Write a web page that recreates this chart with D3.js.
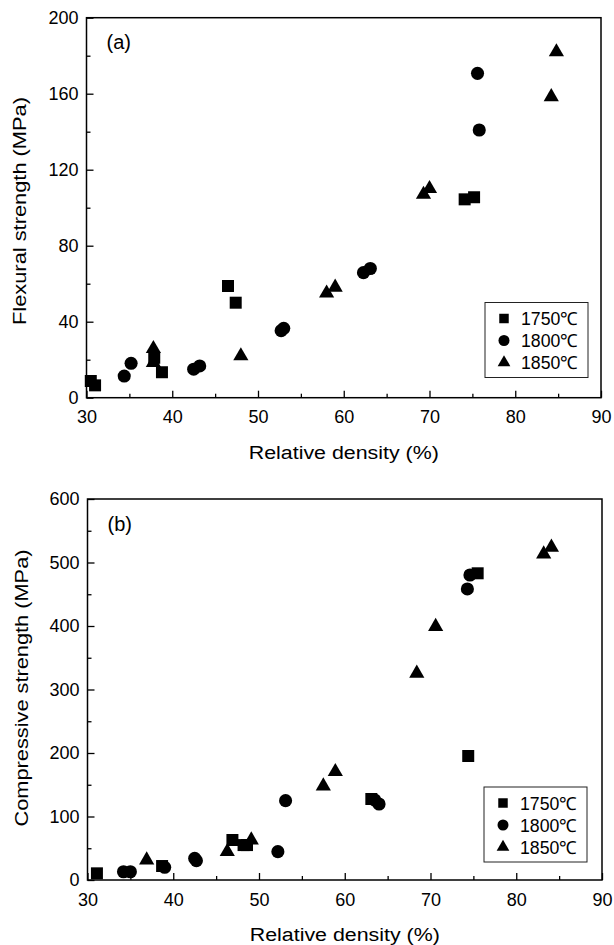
<!DOCTYPE html>
<html>
<head>
<meta charset="utf-8">
<script src="https://cdn.jsdelivr.net/npm/d3@7"></script>
<style>
  body { margin: 0; background: #fff; }
  svg text { font-family: "Liberation Sans", Arial, sans-serif; fill: #000; }
</style>
</head>
<body>
<svg id="chart" width="614" height="945"></svg>
<script>
// data: [relative density %, strength MPa]
var flex1750 = [[30.5,8.8],[31,6.5],[37.9,21],[38.8,13.4],[46.5,58.8],[47.4,50],[74.1,104.4],[75.2,105.5]];
var flex1800 = [[34.4,11.4],[35.2,18.1],[42.5,15],[43.2,16.7],[52.7,35.3],[53,36.5],[62.3,65.8],[63.1,68],[75.6,170.7],[75.8,140.9]];
var flex1850 = [[37.8,25.8],[37.8,18.5],[48,22],[58,55],[59,58.1],[69.3,107],[70,110],[84.2,158.4],[84.8,182]];

var comp1750 = [[31.1,10.5],[38.7,22],[46.9,63],[48.2,55],[48.6,55],[63.1,127.6],[74.4,195.3],[75.5,483]];
var comp1800 = [[34.2,13],[35,13],[39,20],[42.5,34],[42.7,30.4],[52.2,44.6],[53.1,125],[63.5,126],[64,119.7],[74.3,458.3],[74.6,480.3]];
var comp1850 = [[36.9,31.5],[46.3,44.6],[49.1,63],[57.5,148],[58.9,170.6],[68.4,325.5],[70.6,399],[83.2,513.4],[84.1,523.9]];

var seriesNames = ["1750\u2103","1800\u2103","1850\u2103"];
var xTicks = [30,40,50,60,70,80,90];
var xMinor = [35,45,55,65,75,85];
var flexTicks = [0,40,80,120,160,200];
var flexMinor = [20,60,100,140,180];
var compTicks = [0,100,200,300,400,500,600];
var compMinor = [50,150,250,350,450,550];

var svg = d3.select("#chart");
var shapes = [d3.symbolSquare, d3.symbolCircle, d3.symbolTriangle];
var sizes = [144, 135, 100];
var legSizes = [90, 95, 70];

function drawPanel(p) {
    var x = d3.scaleLinear().domain([30,90]).range([p.left, p.right]);
    var y = d3.scaleLinear().domain(p.yDomain).range([p.bottom, p.top]);
    var g = svg.append("g");

    // frame
    g.append("rect")
        .attr("x", p.left).attr("y", p.top)
        .attr("width", p.right - p.left).attr("height", p.bottom - p.top)
        .attr("fill", "none").attr("stroke", "#000").attr("stroke-width", 1.5);

    g.append("g").attr("transform", "translate(0," + p.bottom + ")")
        .call(d3.axisBottom(x).tickValues(xTicks).tickSize(-7).tickPadding(13).tickFormat(d3.format("d")));
    g.append("g").attr("transform", "translate(0," + p.bottom + ")")
        .call(d3.axisBottom(x).tickValues(xMinor).tickSize(-4).tickFormat(""));
    g.append("g").attr("transform", "translate(" + p.left + ",0)")
        .call(d3.axisLeft(y).tickValues(p.yTicks).tickSize(-7).tickPadding(8).tickFormat(d3.format("d")));
    g.append("g").attr("transform", "translate(" + p.left + ",0)")
        .call(d3.axisLeft(y).tickValues(p.yMinor).tickSize(-4).tickFormat(""));

    g.selectAll(".domain").remove();
    g.selectAll(".tick line").attr("stroke", "#000").attr("stroke-width", 1.3);
    g.selectAll(".tick text").style("font-size", "18px");

    // axis titles (the original lettering is wide, so stretch to its length)
    g.append("text")
        .attr("x", (p.left + p.right) / 2 - 95).attr("y", p.xTitleY)
        .attr("textLength", 190).attr("lengthAdjust", "spacingAndGlyphs")
        .style("font-size", "18px")
        .text("Relative density (%)");
    g.append("text")
        .attr("transform", "translate(" + p.yTitleX + "," + (p.yTitleMid + p.yTitleLen / 2) + ") rotate(-90)")
        .attr("textLength", p.yTitleLen).attr("lengthAdjust", "spacingAndGlyphs")
        .style("font-size", "18px")
        .text(p.yTitle);

    g.append("text")
        .attr("x", p.left + 20).attr("y", p.top + p.labelDy)
        .style("font-size", "20px")
        .text(p.label);

    // points
    p.series.forEach(function (s, i) {
        g.selectAll(".pt" + i)
            .data(s)
            .enter()
            .append("path")
            .attr("class", "pt" + i)
            .attr("d", d3.symbol().type(shapes[i]).size(sizes[i]))
            .attr("transform", function (d) { return "translate(" + x(d[0]) + "," + y(d[1]) + ")"; })
            .attr("fill", "#000");
    });

    // legend
    var leg = g.append("g").attr("transform", "translate(" + p.legX + "," + p.legY + ")");
    leg.append("rect")
        .attr("x", 0).attr("y", 0).attr("width", 103).attr("height", 75)
        .attr("fill", "#fff").attr("stroke", "#222").attr("stroke-width", 1);
    var rows = leg.selectAll(".row")
        .data(seriesNames)
        .enter()
        .append("g")
        .attr("class", "row")
        .attr("transform", function (d, i) { return "translate(0," + (16 + i * 22) + ")"; });
    rows.append("path")
        .attr("d", function (d, i) { return d3.symbol().type(shapes[i]).size(legSizes[i])(); })
        .attr("transform", "translate(19,0)")
        .attr("fill", "#000");
    rows.append("text")
        .attr("x", 36).attr("y", 6.5)
        .attr("textLength", 57).attr("lengthAdjust", "spacingAndGlyphs")
        .style("font-size", "18px")
        .text(function (d) { return d; });
}

drawPanel({
    left: 86.5, right: 601, top: 17.7, bottom: 397.7,
    yDomain: [0,200], yTicks: flexTicks, yMinor: flexMinor,
    series: [flex1750, flex1800, flex1850],
    yTitle: "Flexural strength (MPa)", yTitleX: 26, yTitleMid: 211, yTitleLen: 228,
    xTitleY: 459,
    label: "(a)", labelDy: 31,
    legX: 485, legY: 302.5
});

drawPanel({
    left: 87.5, right: 602, top: 499, bottom: 880,
    yDomain: [0,600], yTicks: compTicks, yMinor: compMinor,
    series: [comp1750, comp1800, comp1850],
    yTitle: "Compressive strength (MPa)", yTitleX: 28, yTitleMid: 688, yTitleLen: 277,
    xTitleY: 941,
    label: "(b)", labelDy: 32,
    legX: 484, legY: 787
});
</script>
</body>
</html>
